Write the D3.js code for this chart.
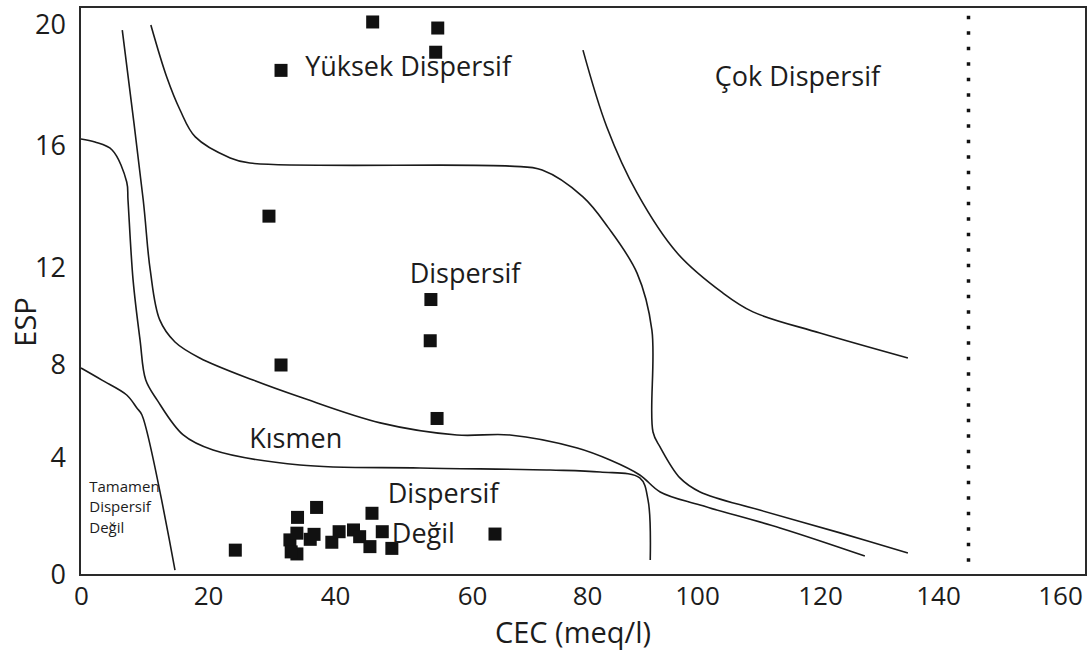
<!DOCTYPE html>
<html>
<head>
<meta charset="utf-8">
<script src="https://cdnjs.cloudflare.com/ajax/libs/d3/7.8.5/d3.min.js"></script>
<style>
	body { margin: 0; background: #fff; }
	svg text { font-family: "Open Sans", "Noto Sans", sans-serif; fill: #1c1c1c; }
</style>
</head>
<body>
<div id="chart"></div>
<script>

// axis ticks
const xTicks = [0, 20, 40, 60, 80, 100, 120, 140, 160]
const yTicks = [0, 4, 8, 12, 16, 20]

// soil samples
const sampleCEC = [45.5, 55.0, 54.7, 31.5, 29.6, 54.0, 53.9, 31.5, 54.9, 64.0, 24.3,
	37.1, 34.1, 45.4, 32.9, 34.0, 34.0, 36.1, 36.7, 39.5, 40.6, 42.7, 43.6, 45.1, 46.9, 48.3, 33.1]
const sampleESP = [20.1, 19.9, 19.1, 18.5, 13.7, 10.7, 9.0, 8.0, 5.7, 1.4, 0.85,
	2.31, 1.97, 2.11, 1.20, 1.43, 0.72, 1.22, 1.39, 1.12, 1.48, 1.54, 1.31, 0.97, 1.48, 0.91, 0.79]

// zone boundaries [CEC, ESP]
const tamamenLine = [[0, 7.87], [3.3, 7.35], [7.2, 6.71], [8.8, 6.15], [9.6, 5.85], [14.8, 0.17]]
const degilLine = [[0, 16.23], [2.2, 16.13], [4.9, 15.87], [7.2, 14.82], [7.4, 14.23], [8.2, 11.51],
	[9.3, 9.03], [10.2, 7.35], [12.0, 6.49], [16.1, 4.99], [20.8, 4.34], [34.5, 3.76], [52.4, 3.66],
	[73.6, 3.59], [82.4, 3.52], [89.6, 3.32], [91.1, 2.56], [91.5, 0.51]]
const kismenLine = [[6.5, 19.83], [9.8, 14.23], [10.9, 11.92], [12.4, 9.86], [14.8, 8.95], [18.7, 8.29],
	[27.1, 7.35], [34.5, 6.62], [46.6, 5.51], [57.8, 4.99], [66.6, 4.99], [78.3, 4.43], [84.2, 3.93],
	[89.6, 3.42], [93.3, 2.84], [100.5, 2.39], [113.5, 1.61], [127.6, 0.65]]
const dispersifLine = [[11.0, 20.0], [13.5, 18.28], [15.6, 17.19], [18.0, 16.3], [23.5, 15.61], [26.6, 15.44],
	[66.6, 15.34], [72.2, 15.21], [79.3, 14.33], [83.8, 13.34], [89.1, 11.79], [91.8, 9.44], [92.0, 5.12],
	[93.3, 4.47], [96.9, 3.32], [100.5, 2.84], [110.2, 2.22], [123.4, 1.44], [134.9, 0.75]]
const cokLine = [[79.3, 19.17], [83.6, 16.63], [89.1, 14.46], [96.4, 12.49], [104.2, 10.97],
	[109.1, 10.19], [120.0, 9.32], [134.9, 8.29]]

// dotted limit
const limitCEC = 145
const limitESP = [0.45, 20.5]

// zone names
const zoneNames = ['Yüksek Dispersif', 'Çok Dispersif', 'Dispersif', 'Kısmen', 'Dispersif', 'Değil']
const zoneCEC = [35.3, 102.9, 50.9, 26.5, 47.7, 48.3]
const zoneESP = [18.3, 17.98, 11.38, 4.43, 2.46, 1.09]
const smallZone = ['Tamamen', 'Dispersif', 'Değil']
const smallZoneAt = [1.3, 2.84]

const width = 1092
const height = 650
const box = {left: 80, top: 7, right: 1086, bottom: 575}

const svg = d3.select('#chart').append('svg')
	.attr('width', width)
	.attr('height', height)

// the printed axis is not evenly spaced, so the scales follow the tick labels
const x = d3.scaleLinear()
	.domain(xTicks)
	.range([81, 208, 335, 472, 587, 697, 820, 938, 1060])

const y = d3.scaleLinear()
	.domain(yTicks)
	.range([575, 458, 365, 268, 146, 25])

const xAxis = svg.append('g')
	.attr('class', 'x-axis')
	.attr('transform', 'translate(0, ' + box.bottom + ')')
	.call(d3.axisBottom(x).tickValues(xTicks).tickSize(0).tickPadding(12))
xAxis.select('.domain').remove()

const yAxis = svg.append('g')
	.attr('class', 'y-axis')
	.attr('transform', 'translate(' + box.left + ', 0)')
	.call(d3.axisLeft(y).tickValues(yTicks).tickSize(0).tickPadding(14))
yAxis.select('.domain').remove()

svg.selectAll('.tick text')
	.attr('font-family', null)
	.attr('fill', '#1c1c1c')
xAxis.selectAll('.tick text').attr('font-size', 26)
yAxis.selectAll('.tick text').attr('font-size', 27)

// frame
svg.append('rect')
	.attr('x', box.left)
	.attr('y', box.top)
	.attr('width', box.right - box.left)
	.attr('height', box.bottom - box.top)
	.attr('fill', 'none')
	.attr('stroke', '#2a2a2a')
	.attr('stroke-width', 2)

const line = d3.line()
	.x(d => x(d[0]))
	.y(d => y(d[1]))
	.curve(d3.curveCatmullRom.alpha(0.5))

const boundaries = [tamamenLine, degilLine, kismenLine, dispersifLine, cokLine]

svg.append('g')
	.selectAll('path')
	.data(boundaries)
	.enter()
	.append('path')
	.attr('d', line)
	.attr('fill', 'none')
	.attr('stroke', '#1a1a1a')
	.attr('stroke-width', 1.6)

svg.append('line')
	.attr('x1', x(limitCEC))
	.attr('x2', x(limitCEC))
	.attr('y1', y(limitESP[0]))
	.attr('y2', y(limitESP[1]))
	.attr('stroke', '#111')
	.attr('stroke-width', 3.5)
	.attr('stroke-dasharray', '3.5 12')

const sq = 13
svg.append('g')
	.selectAll('rect')
	.data(sampleCEC)
	.enter()
	.append('rect')
	.attr('x', (d, i) => x(d) - sq / 2)
	.attr('y', (d, i) => y(sampleESP[i]) - sq / 2)
	.attr('width', sq)
	.attr('height', sq)
	.attr('fill', '#111')

svg.append('g')
	.selectAll('text')
	.data(zoneNames)
	.enter()
	.append('text')
	.attr('x', (d, i) => x(zoneCEC[i]))
	.attr('y', (d, i) => y(zoneESP[i]))
	.attr('font-size', 27)
	.text(d => d)

const small = svg.append('text')
	.attr('x', x(smallZoneAt[0]))
	.attr('y', y(smallZoneAt[1]))
	.attr('font-size', 15)
	.attr('fill', '#333')

small.selectAll('tspan')
	.data(smallZone)
	.enter()
	.append('tspan')
	.attr('x', x(smallZoneAt[0]))
	.attr('dy', (d, i) => i == 0 ? 0 : 20.5)
	.text(d => d)

// axis titles
svg.append('text')
	.attr('transform', 'translate(26, 322) rotate(-90)')
	.attr('text-anchor', 'middle')
	.attr('dy', '0.35em')
	.attr('font-size', 29)
	.text('ESP')

svg.append('text')
	.attr('x', 573)
	.attr('y', 643)
	.attr('text-anchor', 'middle')
	.attr('font-size', 29)
	.text('CEC (meq/l)')

</script>
</body>
</html>
